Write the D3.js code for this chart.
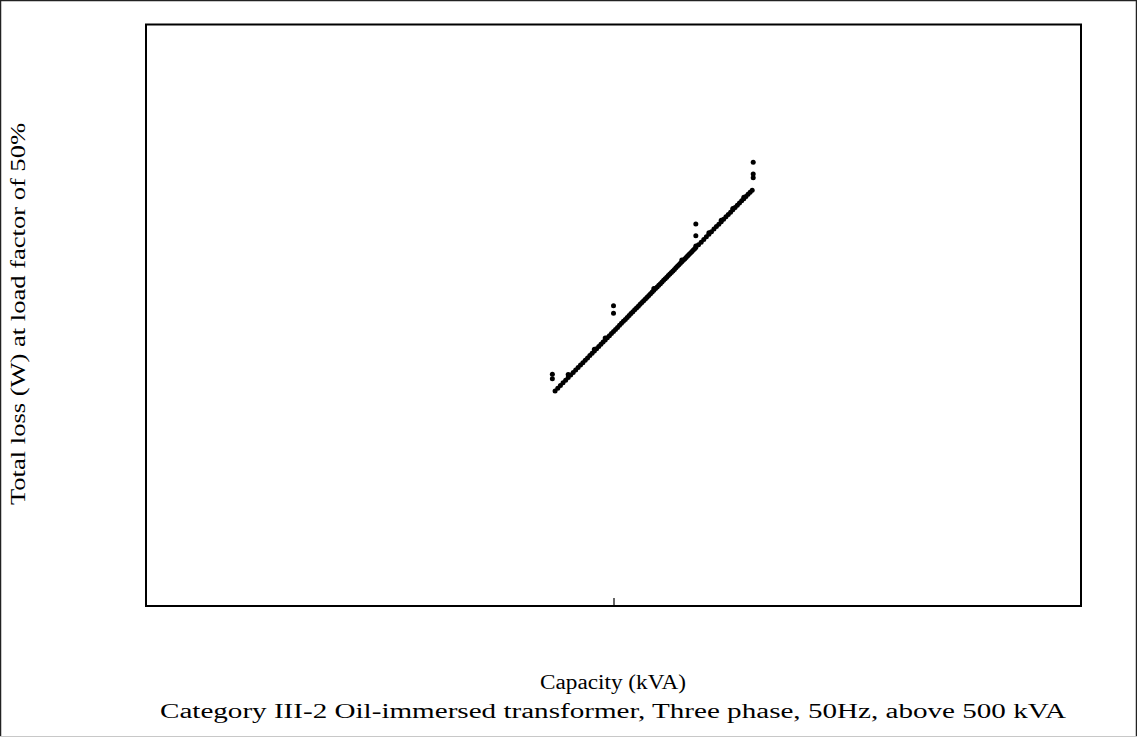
<!DOCTYPE html>
<html>
<head>
<meta charset="utf-8">
<script src="https://cdn.jsdelivr.net/npm/d3@7"></script>
<style>
  html, body { margin: 0; padding: 0; background: #fff; }
  svg { display: block; }
  text { font-family: "Liberation Serif", "Times New Roman", serif; fill: #000; }
</style>
</head>
<body>
<div id="chart"></div>
<script>
// Rated capacity (kVA) of each listed unit
const capacity = [
  750, 760, 770, 780, 790, 800, 810, 820, 830, 840, 850, 860, 870, 880, 890,
  900, 910, 920, 930, 940, 950, 960, 970, 980, 990, 1000, 1010, 1020, 1030, 1040,
  1050, 1060, 1070, 1080, 1090, 1100, 1110, 1120, 1130, 1140, 1150, 1160, 1170, 1180, 1190,
  1200, 1210, 1220, 1230, 1240, 1250, 1260, 1270, 1280, 1290, 1300, 1310, 1320, 1330, 1340,
  1350, 1360, 1370, 1380, 1390, 1400, 1410, 1420, 1430, 1440, 1450, 1460, 1470, 1480, 1490,
  1500, 1520, 1540, 1560, 1580, 1600, 1620, 1640, 1660, 1680, 1700, 1720, 1740, 1760, 1780,
  1800, 1820, 1840, 1860, 1880, 1900, 1920, 1940, 1960, 1980
];
// Total loss (W) at 50% load for each unit above
const totalLoss = [
  2343, 2369, 2394, 2420, 2445, 2471, 2496, 2521, 2546, 2571, 2596, 2621, 2646, 2671, 2696,
  2721, 2746, 2770, 2795, 2819, 2844, 2868, 2893, 2917, 2942, 2966, 2990, 3014, 3039, 3063,
  3087, 3111, 3135, 3159, 3183, 3207, 3231, 3254, 3278, 3302, 3326, 3349, 3373, 3397, 3420,
  3444, 3467, 3491, 3514, 3537, 3561, 3584, 3607, 3631, 3654, 3677, 3700, 3723, 3746, 3769,
  3792, 3815, 3838, 3861, 3884, 3907, 3930, 3953, 3975, 3998, 4021, 4044, 4066, 4089, 4112,
  4134, 4179, 4224, 4269, 4314, 4359, 4403, 4448, 4492, 4536, 4580, 4625, 4669, 4712, 4756,
  4800, 4844, 4887, 4931, 4974, 5017, 5061, 5104, 5147, 5190
];
// Additional units sharing a standard rating, with somewhat higher loss
const extraCapacity = [800, 910, 960, 1220, 1400, 1500, 1600, 1700, 1800, 1900];
const extraLoss     = [2500, 2765, 2890, 3515, 3935, 4160, 4385, 4605, 4825, 5045];
// Units well above the trend
const highCapacity = [740, 740, 1000, 1000, 1500, 1500, 1990, 1990, 1990];
const highLoss     = [2503, 2460, 3284, 3187, 4539, 4333, 5795, 5533, 5453];

const xTicks = [1000];
const xDomain = [100, 10000];
const yDomain = [1000, 10000];

const yTitle = "Total loss (W) at load factor of 50%";
const xTitle = "Capacity (kVA)";
const subTitle = "Category III-2 Oil-immersed transformer, Three phase, 50Hz, above 500 kVA";

const W = 1137, H = 737;
const plot = { left: 146, right: 1081, top: 24.5, bottom: 606 };

const svg = d3.select("#chart").append("svg")
  .attr("width", W).attr("height", H);

// page frame
svg.append("rect").attr("x", 0).attr("y", 0).attr("width", W).attr("height", H).attr("fill", "#fff");
svg.append("path")
  .attr("d", `M0.5,${H} V0.5 H${W - 0.5} V${H}`)
  .attr("fill", "none").attr("stroke", "#222").attr("stroke-width", 1.5);
svg.append("line")
  .attr("x1", 0).attr("x2", W).attr("y1", H - 0.5).attr("y2", H - 0.5)
  .attr("stroke", "#c8c8c8").attr("stroke-width", 1);

const x = d3.scaleLog().domain(xDomain).range([plot.left, plot.right]);
const y = d3.scaleLog().domain(yDomain).range([plot.bottom, plot.top]);

// plot frame
svg.append("rect")
  .attr("x", plot.left).attr("y", plot.top)
  .attr("width", plot.right - plot.left).attr("height", plot.bottom - plot.top)
  .attr("fill", "none").attr("stroke", "#000").attr("stroke-width", 2);

// x axis: inner tick marks only, no labels
const xAxis = d3.axisTop(x).tickValues(xTicks).tickSize(8).tickFormat(() => "");
const gx = svg.append("g").attr("transform", `translate(0,${plot.bottom})`).call(xAxis);
gx.select(".domain").remove();
gx.selectAll(".tick line").attr("stroke", "#000").attr("stroke-width", 1.2);

const pts = [];
capacity.forEach((c, i) => pts.push([c, totalLoss[i]]));
extraCapacity.forEach((c, i) => pts.push([c, extraLoss[i]]));
highCapacity.forEach((c, i) => pts.push([c, highLoss[i]]));

svg.append("g").selectAll("circle").data(pts).join("circle")
  .attr("cx", d => x(d[0]))
  .attr("cy", d => y(d[1]))
  .attr("r", 2.5)
  .attr("fill", "#000");

// titles
svg.append("text")
  .attr("transform", `translate(25,314) rotate(-90)`)
  .attr("text-anchor", "middle")
  .attr("font-size", 20)
  .attr("textLength", 382).attr("lengthAdjust", "spacingAndGlyphs")
  .text(yTitle);

svg.append("text")
  .attr("x", 613).attr("y", 689)
  .attr("text-anchor", "middle")
  .attr("font-size", 20)
  .attr("textLength", 146).attr("lengthAdjust", "spacingAndGlyphs")
  .text(xTitle);

svg.append("text")
  .attr("x", 613).attr("y", 718)
  .attr("text-anchor", "middle")
  .attr("font-size", 20)
  .attr("textLength", 906).attr("lengthAdjust", "spacingAndGlyphs")
  .text(subTitle);
</script>
</body>
</html>
